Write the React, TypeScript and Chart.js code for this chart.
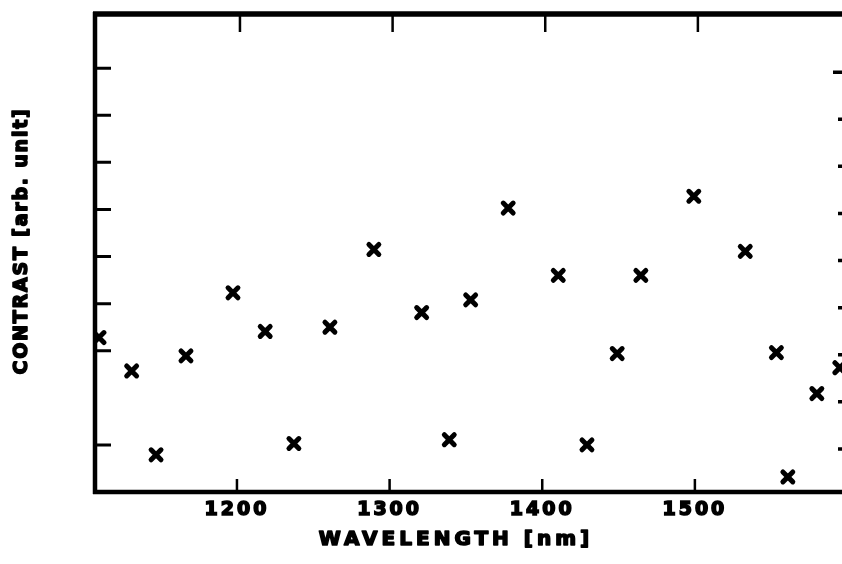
import React, { useEffect, useRef } from "react";
import { Chart, registerables } from "chart.js";

Chart.register(...registerables);

// ---- data ----
const wavelengthNm = [
  1109.6, 1131.0, 1147.0, 1166.6, 1197.4, 1218.5, 1237.3, 1260.9, 1289.7, 1321.0,
  1339.1, 1353.1, 1377.7, 1410.5, 1429.3, 1449.1, 1464.6, 1499.3, 1533.0, 1553.4,
  1560.9, 1579.9, 1595.0,
];
const contrast = [
  3.28, 2.57, 0.79, 2.89, 4.23, 3.41, 1.03, 3.5, 5.15, 3.81,
  1.11, 4.08, 6.03, 4.6, 1.0, 2.94, 4.6, 6.28, 5.11, 2.96,
  0.32, 2.09, 2.64,
];
const xTickValues = [1200, 1300, 1400, 1500];
const xTickLabels = ["1200", "1300", "1400", "1500"];
const leftTickValues = [1, 3, 4, 5, 6, 7, 8, 9];
const rightTickValues = [1, 2, 3, 4, 5, 6, 7, 8, 9];
const xTitle = "WAVELENGTH [nm]";
const yTitle = "CONTRAST [arb. unit]";

const X_MIN = 1107;
const X_MAX = 1599;
const Y_MIN = 0;
const Y_MAX = 10.15;

const FONT = '"DejaVu Sans", sans-serif';

const framePlugin = {
  id: "framePlugin",
  beforeDraw(chart: any) {
    (chart.ctx as any).letterSpacing = "3px";
  },
  beforeDatasetsDraw(chart: any) {
    const ctx = chart.ctx as CanvasRenderingContext2D;
    ctx.lineCap = "round";
    ctx.lineJoin = "round";
  },
  afterDatasetsDraw(chart: any) {
    const ctx = chart.ctx as CanvasRenderingContext2D;
    const { left, right, top, bottom } = chart.chartArea;
    const xs = chart.scales.x;
    const ys = chart.scales.y;
    ctx.save();
    ctx.strokeStyle = "#000";
    ctx.lineCap = "butt";
    // frame
    ctx.lineWidth = 5.5;
    ctx.beginPath();
    ctx.moveTo(left - 2, top);
    ctx.lineTo(right + 2, top);
    ctx.stroke();
    ctx.lineWidth = 4.5;
    ctx.beginPath();
    ctx.moveTo(left, top - 2);
    ctx.lineTo(left, bottom + 2);
    ctx.moveTo(left - 2, bottom);
    ctx.lineTo(right + 2, bottom);
    ctx.moveTo(right, top - 2);
    ctx.lineTo(right, bottom + 2);
    ctx.stroke();
    // x ticks (inward, top and bottom)
    ctx.lineWidth = 2.5;
    ctx.beginPath();
    for (const v of xTickValues) {
      const px = xs.getPixelForValue(v);
      ctx.moveTo(px, bottom);
      ctx.lineTo(px, bottom - 13);
      ctx.moveTo(px + 3, top);
      ctx.lineTo(px + 3, top + 18);
    }
    ctx.stroke();
    // y ticks left
    ctx.lineWidth = 3;
    ctx.beginPath();
    for (const v of leftTickValues) {
      const py = ys.getPixelForValue(v);
      ctx.moveTo(left, py);
      ctx.lineTo(left + 16, py);
    }
    ctx.stroke();
    // y ticks right
    ctx.lineWidth = 3.5;
    ctx.beginPath();
    for (const v of rightTickValues) {
      const py = ys.getPixelForValue(v) + 4;
      ctx.moveTo(right, py);
      ctx.lineTo(right - (v === 9 ? 13 : 8), py);
    }
    ctx.stroke();
    ctx.restore();
  },
  afterDraw(chart: any) {
    const ctx = chart.ctx as any;
    ctx.save();
    ctx.fillStyle = "#000";
    ctx.strokeStyle = "#000";
    ctx.lineJoin = "round";
    ctx.textAlign = "center";
    ctx.textBaseline = "middle";
    ctx.letterSpacing = "4px";
    ctx.font = `bold 20px ${FONT}`;
    ctx.lineWidth = 1.6;
    ctx.fillText(xTitle, 456, 540);
    ctx.strokeText(xTitle, 456, 540);
    ctx.letterSpacing = "1.8px";
    ctx.font = `bold 19px ${FONT}`;
    ctx.translate(22, 241);
    ctx.rotate(-Math.PI / 2);
    ctx.fillText(yTitle, 0, 0);
    ctx.strokeText(yTitle, 0, 0);
    ctx.restore();
    ctx.letterSpacing = "0px";
  },
};

export default function App() {
  const canvasRef = useRef<HTMLCanvasElement | null>(null);

  useEffect(() => {
    const canvas = canvasRef.current;
    if (!canvas) return;
    const points = wavelengthNm.map((x, i) => ({ x, y: contrast[i] }));
    const chart = new Chart(canvas, {
      type: "scatter",
      data: {
        datasets: [
          {
            data: points,
            pointStyle: "crossRot",
            pointRadius: 7,
            pointBorderWidth: 5,
            borderColor: "#000",
            backgroundColor: "#000",
            clip: 0,
          } as any,
        ],
      },
      options: {
        animation: false,
        responsive: false,
        events: [],
        layout: { padding: { left: 0, right: 24, top: 14, bottom: 0 } },
        plugins: {
          legend: { display: false },
          tooltip: { enabled: false },
          title: { display: false },
        },
        scales: {
          x: {
            type: "linear",
            position: "bottom",
            min: X_MIN,
            max: X_MAX,
            afterBuildTicks: (scale: any) => {
              scale.ticks = xTickValues.map((v) => ({ value: v }));
            },
            afterFit: (scale: any) => {
              scale.height = 72;
            },
            grid: { display: false, drawTicks: false },
            border: { display: false },
            ticks: {
              color: "#000",
              padding: 7,
              maxRotation: 0,
              autoSkip: false,
              textStrokeColor: "#000",
              textStrokeWidth: 1.6,
              font: { family: FONT, size: 19, weight: "bold" },
              callback: (v: any) => {
                const i = xTickValues.indexOf(Number(v));
                return i >= 0 ? xTickLabels[i] : "";
              },
            },
          } as any,
          y: {
            type: "linear",
            position: "left",
            min: Y_MIN,
            max: Y_MAX,
            afterFit: (scale: any) => {
              scale.width = 95;
            },
            grid: { display: false, drawTicks: false },
            border: { display: false },
            ticks: { display: false },
          },
        },
      },
      plugins: [framePlugin],
    });
    return () => chart.destroy();
  }, []);

  return (
    <div
      style={{
        position: "fixed",
        left: 0,
        top: 0,
        width: 842,
        height: 564,
        overflow: "hidden",
        background: "#fff",
      }}
    >
      <canvas
        ref={canvasRef}
        width={870}
        height={564}
        style={{ width: 870, height: 564, display: "block" }}
      />
    </div>
  );
}
